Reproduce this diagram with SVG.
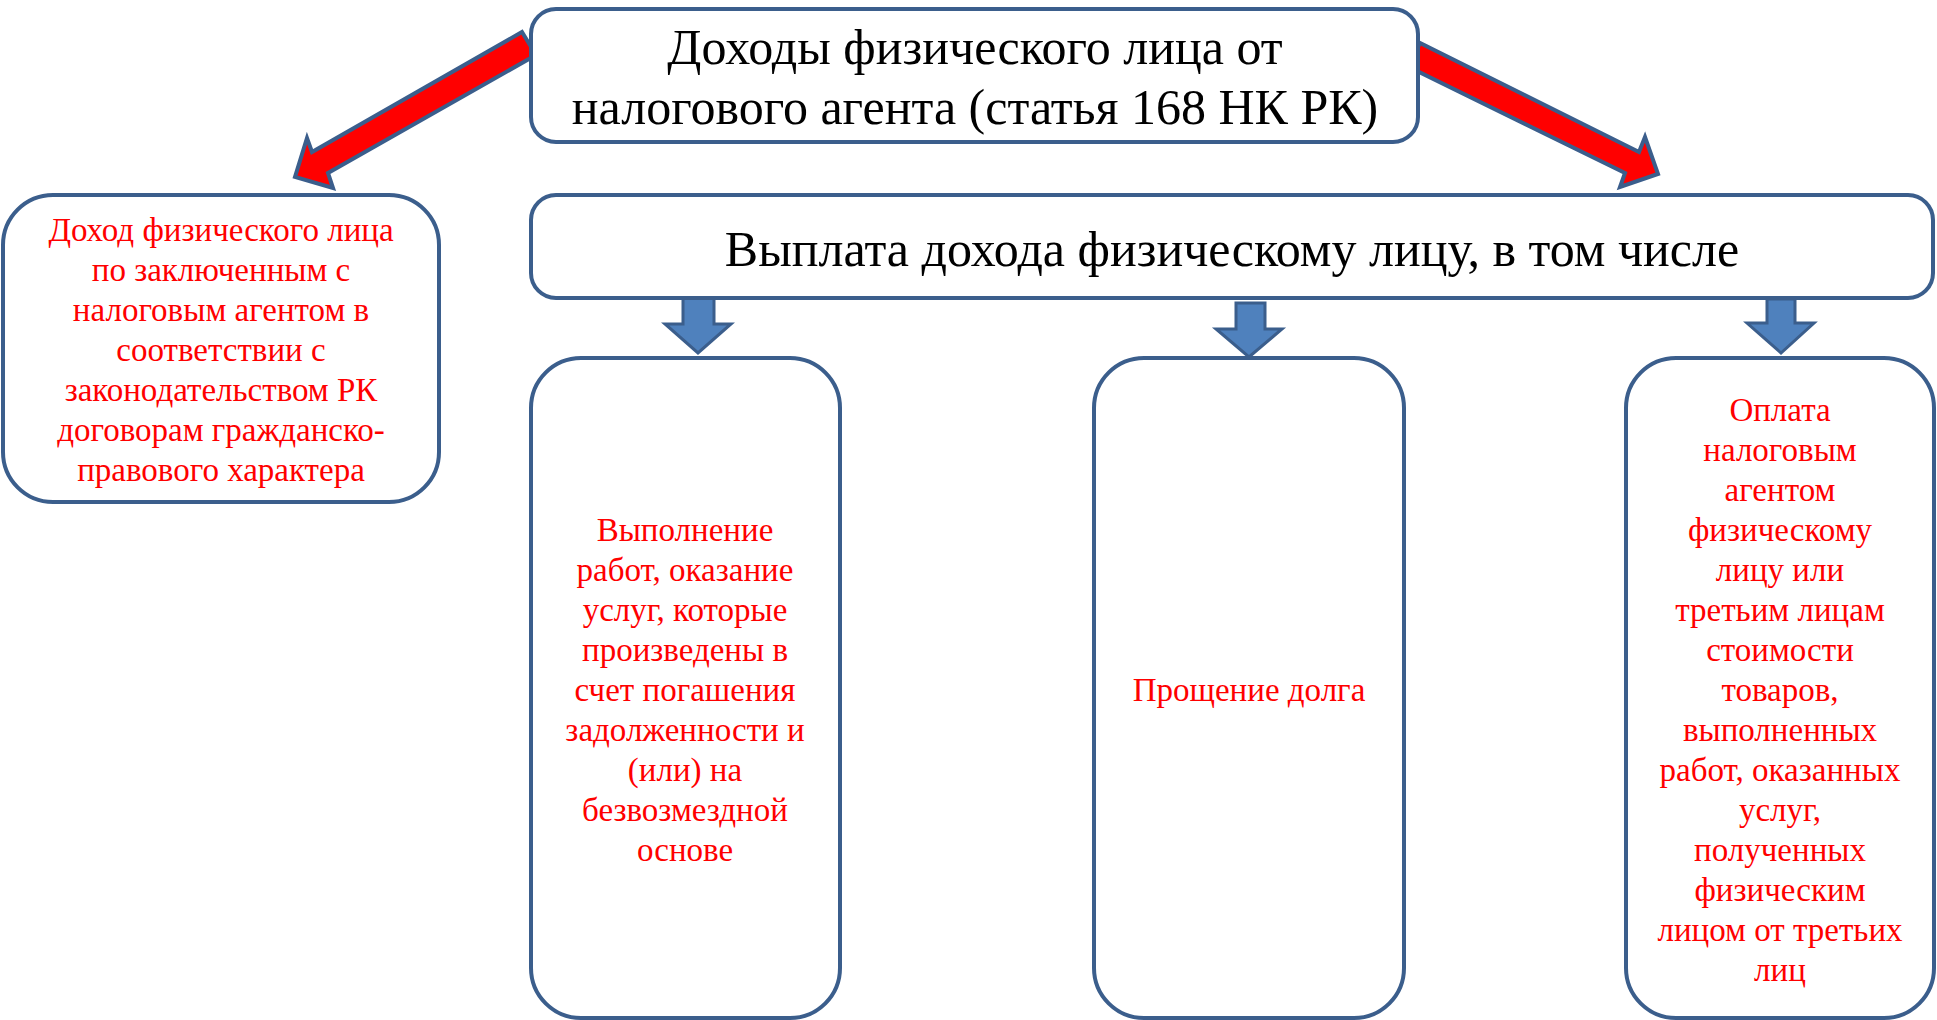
<svg xmlns="http://www.w3.org/2000/svg" width="1937" height="1020" viewBox="0 0 1937 1020">
<style>
.box{fill:#fff;stroke:#3B5E8C;stroke-width:4}
.h{font-family:"Liberation Serif","Times New Roman",serif;font-size:50px;fill:#000;text-anchor:middle}
.r{font-family:"Liberation Serif","Times New Roman",serif;font-size:33px;fill:#FF0000;text-anchor:middle}
.red{fill:#FF0000;stroke:#3B5E8C;stroke-width:4;stroke-linejoin:miter}
.blue{fill:#4F81BD;stroke:#3B5E8C;stroke-width:3}
</style>
<rect width="1937" height="1020" fill="#fff"/>
<g id="connectors">
<polygon class="red" points="522,32 536,55 328,173 333,188 295,177 307,138 312,152"/>
<polygon class="red" points="1420,43 1409,67 1625,173 1620,187 1658,174 1645,137 1639,152"/>
<polygon class="blue" points="683,297 714,297 714,324 731,324 698,353 665,324 683,324"/>
<polygon class="blue" points="1236,303 1265,303 1265,329 1282,329 1249,357 1216,329 1236,329"/>
<polygon class="blue" points="1767,299 1795,299 1795,323 1814,323 1781,353 1747,323 1767,323"/>
</g>
<g id="top">
<rect class="box" x="531" y="9" width="887" height="133" rx="25"/>
<text class="h" x="975" y="64">Доходы физического лица от</text>
<text class="h" x="975" y="124">налогового агента (статья 168 НК РК)</text>
</g>
<g id="payment">
<rect class="box" x="531" y="195" width="1402" height="103" rx="25"/>
<text class="h" x="1232" y="266">Выплата дохода физическому лицу, в том числе</text>
</g>
<g id="left">
<rect class="box" x="3" y="195" width="436" height="307" rx="50"/>
<text class="r"><tspan x="221" y="241">Доход физического лица</tspan><tspan x="221" y="281">по заключенным с</tspan><tspan x="221" y="321">налоговым агентом в</tspan><tspan x="221" y="361">соответствии с</tspan><tspan x="221" y="401">законодательством РК</tspan><tspan x="221" y="441">договорам гражданско-</tspan><tspan x="221" y="481">правового характера</tspan></text>
</g>
<g id="boxA">
<rect class="box" x="531" y="358" width="309" height="660" rx="50"/>
<text class="r"><tspan x="685" y="541">Выполнение</tspan><tspan x="685" y="581">работ, оказание</tspan><tspan x="685" y="621">услуг, которые</tspan><tspan x="685" y="661">произведены в</tspan><tspan x="685" y="701">счет погашения</tspan><tspan x="685" y="741">задолженности и</tspan><tspan x="685" y="781">(или) на</tspan><tspan x="685" y="821">безвозмездной</tspan><tspan x="685" y="861">основе</tspan></text>
</g>
<g id="boxB">
<rect class="box" x="1094" y="358" width="310" height="660" rx="50"/>
<text class="r" x="1249" y="701">Прощение долга</text>
</g>
<g id="boxC">
<rect class="box" x="1626" y="358" width="308" height="660" rx="50"/>
<text class="r"><tspan x="1780" y="421">Оплата</tspan><tspan x="1780" y="461">налоговым</tspan><tspan x="1780" y="501">агентом</tspan><tspan x="1780" y="541">физическому</tspan><tspan x="1780" y="581">лицу или</tspan><tspan x="1780" y="621">третьим лицам</tspan><tspan x="1780" y="661">стоимости</tspan><tspan x="1780" y="701">товаров,</tspan><tspan x="1780" y="741">выполненных</tspan><tspan x="1780" y="781">работ, оказанных</tspan><tspan x="1780" y="821">услуг,</tspan><tspan x="1780" y="861">полученных</tspan><tspan x="1780" y="901">физическим</tspan><tspan x="1780" y="941">лицом от третьих</tspan><tspan x="1780" y="981">лиц</tspan></text>
</g>
</svg>
